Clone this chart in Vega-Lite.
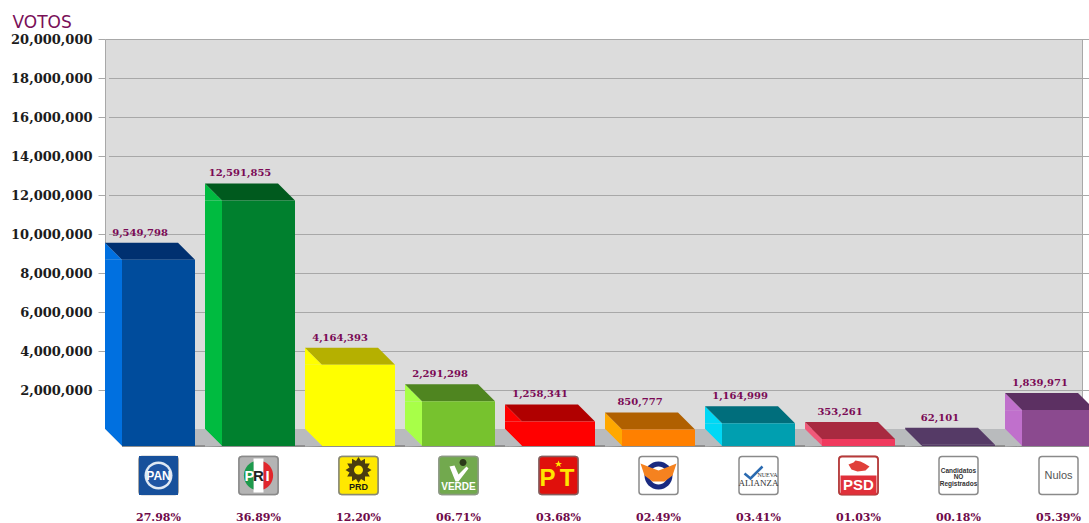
{
"$schema":"https://vega.github.io/schema/vega-lite/v6.json",
"width":977,"height":390,
"autosize":{"type":"none"},
"padding":{"left":105,"top":39,"right":7,"bottom":94},
"background":"#ffffff",
"view":{"fill":"#dcdcdc","stroke":"#a8a8a8","strokeWidth":1},
"data":{"values":[
{"p":"PAN","v":9549798,"pct":"27.98%"},
{"p":"PRI","v":12591855,"pct":"36.89%"},
{"p":"PRD","v":4164393,"pct":"12.20%"},
{"p":"PVEM","v":2291298,"pct":"06.71%"},
{"p":"PT","v":1258341,"pct":"03.68%"},
{"p":"Convergencia","v":850777,"pct":"02.49%"},
{"p":"Nueva Alianza","v":1164999,"pct":"03.41%"},
{"p":"PSD","v":353261,"pct":"01.03%"},
{"p":"Candidatos no registrados","v":62101,"pct":"00.18%"},
{"p":"Nulos","v":1839971,"pct":"05.39%"}
]},
"encoding":{
"x":{"field":"p","type":"nominal","axis":null,"sort":null,"scale":{"type":"band","domain":["PAN","PRI","PRD","PVEM","PT","Convergencia","Nueva Alianza","PSD","Candidatos no registrados","Nulos"],"range":[3.5,1003.5],"paddingInner":0,"paddingOuter":0}},
"y":{"field":"v","type":"quantitative","stack":null,"scale":{"domain":[0,20000000],"nice":false}}
},
"resolve":{"scale":{"color":"independent"}},
"layer":[
{"mark":{"type":"point","filled":true,"opacity":1,"size":4,"strokeWidth":0,"fill":"#b9bbbd","shape":"M-53.5,0h100v17h-100z"},
 "encoding":{"y":{"datum":0,"type":"quantitative","axis":{"title":"VOTOS","titleAngle":0,"titleX":-93,"titleY":-12,"titleAlign":"left","titleBaseline":"alphabetic","titleFont":"DejaVu Sans","titleFontSize":17,"titleFontWeight":"normal","titleColor":"#7a1058","values":[2000000,4000000,6000000,8000000,10000000,12000000,14000000,16000000,18000000,20000000],"labelExpr":"format(datum.value, ',')","labelFont":"DejaVu Serif","labelFontWeight":"bold","labelFontSize":13,"labelColor":"#1c1c1c","labelPadding":6,"tickSize":7,"tickColor":"#a8a8a8","grid":true,"gridColor":"#a8a8a8","gridWidth":1,"domain":false,"labelOverlap":false}}}},
{"mark":{"type":"rule","color":"#8f8f8f","strokeWidth":1.5,"yOffset":17},"encoding":{"x":{"value":17},"x2":{"value":984},"y":{"datum":0,"type":"quantitative"}}},

{"mark":{"type":"bar","width":17,"xOffset":-45,"yOffset":17},
 "encoding":{"y2":{"datum":0},"color":{"field":"p","type":"nominal","legend":null,"sort":null,"scale":{"domain":["PAN","PRI","PRD","PVEM","PT","Convergencia","Nueva Alianza","PSD","Candidatos no registrados","Nulos"],"range":["#0070e0","#00bb40","#ffff00","#a8ff48","#ff0000","#ffa800","#00d8f5","#f05a7a","#553a66","#c070cc"]}}}},
{"mark":{"type":"point","filled":true,"opacity":1,"size":4,"strokeWidth":0,"shape":"M-53.5,0L-36.5,17L-53.5,17Z"},
 "encoding":{"color":{"field":"p","type":"nominal","legend":null,"sort":null,"scale":{"domain":["PAN","PRI","PRD","PVEM","PT","Convergencia","Nueva Alianza","PSD","Candidatos no registrados","Nulos"],"range":["#0070e0","#00bb40","#ffff00","#a8ff48","#ff0000","#ffa800","#00d8f5","#f05a7a","#553a66","#c070cc"]}}}},
{"mark":{"type":"point","filled":true,"opacity":1,"size":4,"strokeWidth":0,"shape":"M-53.5,0L-36.5,0L-36.5,17Z"},
 "encoding":{"y":{"datum":0,"type":"quantitative"},"color":{"field":"p","type":"nominal","legend":null,"sort":null,"scale":{"domain":["PAN","PRI","PRD","PVEM","PT","Convergencia","Nueva Alianza","PSD","Candidatos no registrados","Nulos"],"range":["#0070e0","#00bb40","#ffff00","#a8ff48","#ff0000","#ffa800","#00d8f5","#f05a7a","#553a66","#c070cc"]}}}},
{"mark":{"type":"point","filled":true,"opacity":1,"size":4,"strokeWidth":0,"shape":"M-53.5,0L-36.5,17L-53.5,17.5Z"},
 "encoding":{"y":{"datum":0,"type":"quantitative"},"color":{"field":"p","type":"nominal","legend":null,"sort":null,"scale":{"domain":["PAN","PRI","PRD","PVEM","PT","Convergencia","Nueva Alianza","PSD","Candidatos no registrados","Nulos"],"range":["#ffffff","#b9bbbd","#b9bbbd","#b9bbbd","#b9bbbd","#b9bbbd","#b9bbbd","#b9bbbd","#b9bbbd","#b9bbbd"]}}}},
{"mark":{"type":"point","filled":true,"opacity":1,"size":4,"strokeWidth":0,"shape":"M-53.5,0L19.5,0L36.5,17L-36.5,17Z"},
 "encoding":{"color":{"field":"p","type":"nominal","legend":null,"sort":null,"scale":{"domain":["PAN","PRI","PRD","PVEM","PT","Convergencia","Nueva Alianza","PSD","Candidatos no registrados","Nulos"],"range":["#003070","#005a1e","#b5b000","#4f8520","#b00000","#b06000","#006e7c","#a82a40","#553a66","#5c3062"]}}}},
{"mark":{"type":"bar","width":73,"yOffset":17,"y2Offset":17},
 "encoding":{"y2":{"datum":0},"color":{"field":"p","type":"nominal","legend":null,"sort":null,"scale":{"domain":["PAN","PRI","PRD","PVEM","PT","Convergencia","Nueva Alianza","PSD","Candidatos no registrados","Nulos"],"range":["#004c9c","#00802e","#ffff00","#77c22e","#ff0000","#ff8000","#009fb0","#f03a5e","#553a66","#8b4a8f"]}}}},

{"mark":{"type":"text","font":"DejaVu Serif","fontWeight":"bold","fontSize":10,"color":"#7a0a55","dx":-18.5,"dy":-7,"baseline":"alphabetic","align":"center"},
 "encoding":{"text":{"field":"v","type":"quantitative","format":","}}},
{"mark":{"type":"text","font":"DejaVu Serif","fontWeight":"bold","fontSize":11,"color":"#6f0a4a","dy":92,"baseline":"alphabetic","align":"center"},
 "encoding":{"y":{"datum":0,"type":"quantitative"},"text":{"field":"pct","type":"nominal"}}},

{"mark":{"type":"point","filled":true,"opacity":1,"size":4,"yOffset":46.5,"fill":"#ffffff","stroke":"#8a8a8a","strokeWidth":1.5,"shape":"M-16.5,-19h33a3,3 0 0 1 3,3v32a3,3 0 0 1 -3,3h-33a3,3 0 0 1 -3,-3v-32a3,3 0 0 1 3,-3z"},
 "encoding":{"y":{"datum":0,"type":"quantitative"}}},

{"transform":[{"filter":"datum.p=='PAN'"}],"mark":{"type":"point","filled":true,"opacity":1,"size":4,"yOffset":46.5,"fill":"#17509b","strokeWidth":0,"shape":"M-19.5,-19.5h39v39h-39z"},"encoding":{"y":{"datum":0,"type":"quantitative"}}},
{"transform":[{"filter":"datum.p=='PAN'"}],"mark":{"type":"point","filled":true,"opacity":1,"size":4,"yOffset":46.5,"fill":"#dfe8f3","strokeWidth":0,"shape":"M-14,0a14,14 0 1,0 28,0a14,14 0 1,0 -28,0Z"},"encoding":{"y":{"datum":0,"type":"quantitative"}}},
{"transform":[{"filter":"datum.p=='PAN'"}],"mark":{"type":"point","filled":true,"opacity":1,"size":4,"yOffset":46.5,"fill":"#1f55a3","strokeWidth":0,"shape":"M-11.5,0a11.5,11.5 0 1,0 23,0a11.5,11.5 0 1,0 -23,0Z"},"encoding":{"y":{"datum":0,"type":"quantitative"}}},
{"transform":[{"filter":"datum.p=='PAN'"}],"mark":{"type":"text","text":"PAN","font":"Liberation Sans","fontWeight":"bold","fontSize":12,"color":"#ffffff","dy":47,"align":"center"},"encoding":{"y":{"datum":0,"type":"quantitative"}}},

{"transform":[{"filter":"datum.p=='PRI'"}],"mark":{"type":"point","filled":true,"opacity":1,"size":4,"yOffset":46.5,"fill":"#b4b4b4","stroke":"#8a8a8a","strokeWidth":1.5,"shape":"M-16.5,-19h33a3,3 0 0 1 3,3v32a3,3 0 0 1 -3,3h-33a3,3 0 0 1 -3,-3v-32a3,3 0 0 1 3,-3z"},"encoding":{"y":{"datum":0,"type":"quantitative"}}},
{"transform":[{"filter":"datum.p=='PRI'"}],"mark":{"type":"point","filled":true,"opacity":1,"size":4,"yOffset":46.5,"fill":"#ffffff","strokeWidth":0,"shape":"M-5,-17h10v34h-10z"},"encoding":{"y":{"datum":0,"type":"quantitative"}}},
{"transform":[{"filter":"datum.p=='PRI'"}],"mark":{"type":"point","filled":true,"opacity":1,"size":4,"yOffset":46.5,"fill":"#1d9a4c","strokeWidth":0,"shape":"M-5,-14a15,15 0 0 0 0,28z"},"encoding":{"y":{"datum":0,"type":"quantitative"}}},
{"transform":[{"filter":"datum.p=='PRI'"}],"mark":{"type":"point","filled":true,"opacity":1,"size":4,"yOffset":46.5,"fill":"#e0262c","strokeWidth":0,"shape":"M5,-14a15,15 0 0 1 0,28z"},"encoding":{"y":{"datum":0,"type":"quantitative"}}},
{"transform":[{"filter":"datum.p=='PRI'"}],"mark":{"type":"text","text":"P","font":"Liberation Sans","fontWeight":"bold","fontSize":15,"color":"#ffffff","dy":46.5,"dx":-9,"align":"center"},"encoding":{"y":{"datum":0,"type":"quantitative"}}},
{"transform":[{"filter":"datum.p=='PRI'"}],"mark":{"type":"text","text":"R","font":"Liberation Sans","fontWeight":"bold","fontSize":15,"color":"#222222","dy":46.5,"align":"center"},"encoding":{"y":{"datum":0,"type":"quantitative"}}},
{"transform":[{"filter":"datum.p=='PRI'"}],"mark":{"type":"text","text":"I","font":"Liberation Sans","fontWeight":"bold","fontSize":15,"color":"#ffffff","dy":46.5,"dx":9,"align":"center"},"encoding":{"y":{"datum":0,"type":"quantitative"}}},

{"transform":[{"filter":"datum.p=='PRD'"}],"mark":{"type":"point","filled":true,"opacity":1,"size":4,"yOffset":46.5,"fill":"#ffe800","stroke":"#8a8a70","strokeWidth":1.5,"shape":"M-16.5,-19h33a3,3 0 0 1 3,3v32a3,3 0 0 1 -3,3h-33a3,3 0 0 1 -3,-3v-32a3,3 0 0 1 3,-3z"},"encoding":{"y":{"datum":0,"type":"quantitative"}}},
{"transform":[{"filter":"datum.p=='PRD'"}],"mark":{"type":"point","filled":true,"opacity":1,"size":4,"yOffset":41,"fill":"#4a3c10","strokeWidth":0,"shape":"M0,-13L2.5,-9L6.5,-11.3L6.5,-6.5L11.3,-6.5L9,-2.5L13,0L9,2.5L11.3,6.5L6.5,6.5L6.5,11.3L2.5,9L0,13L-2.5,9L-6.5,11.3L-6.5,6.5L-11.3,6.5L-9,2.5L-13,0L-9,-2.5L-11.3,-6.5L-6.5,-6.5L-6.5,-11.3L-2.5,-9Z"},"encoding":{"y":{"datum":0,"type":"quantitative"}}},
{"transform":[{"filter":"datum.p=='PRD'"}],"mark":{"type":"point","filled":true,"opacity":1,"size":4,"yOffset":41,"fill":"#ffe800","strokeWidth":0,"shape":"M-4.5,0a4.5,4.5 0 1,0 9,0a4.5,4.5 0 1,0 -9,0Z"},"encoding":{"y":{"datum":0,"type":"quantitative"}}},
{"transform":[{"filter":"datum.p=='PRD'"}],"mark":{"type":"text","text":"PRD","font":"Liberation Sans","fontWeight":"bold","fontSize":9,"color":"#1a1a10","dy":58,"align":"center"},"encoding":{"y":{"datum":0,"type":"quantitative"}}},

{"transform":[{"filter":"datum.p=='PVEM'"}],"mark":{"type":"point","filled":true,"opacity":1,"size":4,"yOffset":46.5,"fill":"#72a94e","stroke":"#8a9a80","strokeWidth":1.5,"shape":"M-16.5,-19h33a3,3 0 0 1 3,3v32a3,3 0 0 1 -3,3h-33a3,3 0 0 1 -3,-3v-32a3,3 0 0 1 3,-3z"},"encoding":{"y":{"datum":0,"type":"quantitative"}}},
{"transform":[{"filter":"datum.p=='PVEM'"}],"mark":{"type":"point","filled":true,"opacity":1,"size":4,"yOffset":46.5,"fill":"#ffffff","strokeWidth":0,"shape":"M-9,-9L-4,-10L0,-1L8,-9L10,-7L0,6L-3,6Z"},"encoding":{"y":{"datum":0,"type":"quantitative"}}},
{"transform":[{"filter":"datum.p=='PVEM'"}],"mark":{"type":"point","filled":true,"opacity":1,"size":4,"yOffset":46.5,"fill":"#2a3a1a","strokeWidth":0,"shape":"M1,-13a3.5,3.5 0 1,0 7,0a3.5,3.5 0 1,0 -7,0Z"},"encoding":{"y":{"datum":0,"type":"quantitative"}}},
{"transform":[{"filter":"datum.p=='PVEM'"}],"mark":{"type":"text","text":"VERDE","font":"Liberation Sans","fontWeight":"bold","fontSize":10,"color":"#ffffff","dy":58,"align":"center"},"encoding":{"y":{"datum":0,"type":"quantitative"}}},

{"transform":[{"filter":"datum.p=='PT'"}],"mark":{"type":"point","filled":true,"opacity":1,"size":4,"yOffset":46.5,"fill":"#e0100c","stroke":"#8a5a5a","strokeWidth":1.5,"shape":"M-16.5,-19h33a3,3 0 0 1 3,3v32a3,3 0 0 1 -3,3h-33a3,3 0 0 1 -3,-3v-32a3,3 0 0 1 3,-3z"},"encoding":{"y":{"datum":0,"type":"quantitative"}}},
{"transform":[{"filter":"datum.p=='PT'"}],"mark":{"type":"text","text":"P","font":"Liberation Sans","fontWeight":"bold","fontSize":24,"color":"#ffe600","dy":50,"dx":-11,"align":"center"},"encoding":{"y":{"datum":0,"type":"quantitative"}}},
{"transform":[{"filter":"datum.p=='PT'"}],"mark":{"type":"text","text":"T","font":"Liberation Sans","fontWeight":"bold","fontSize":24,"color":"#ffe600","dy":50,"dx":8.5,"align":"center"},"encoding":{"y":{"datum":0,"type":"quantitative"}}},
{"transform":[{"filter":"datum.p=='PT'"}],"mark":{"type":"point","filled":true,"opacity":1,"size":4,"yOffset":46.5,"fill":"#ffe600","strokeWidth":0,"shape":"M0,-15L1,-12.5L3.5,-12.5L1.5,-11L2.3,-8.5L0,-10L-2.3,-8.5L-1.5,-11L-3.5,-12.5L-1,-12.5Z"},"encoding":{"y":{"datum":0,"type":"quantitative"}}},

{"transform":[{"filter":"datum.p=='Convergencia'"}],"mark":{"type":"point","filled":true,"opacity":1,"size":4,"yOffset":46.5,"fill":"#1a2a80","strokeWidth":0,"shape":"M-14,0a14,14 0 1,0 28,0a14,14 0 1,0 -28,0Z"},"encoding":{"y":{"datum":0,"type":"quantitative"}}},
{"transform":[{"filter":"datum.p=='Convergencia'"}],"mark":{"type":"point","filled":true,"opacity":1,"size":4,"yOffset":46.5,"fill":"#ffffff","strokeWidth":0,"shape":"M-9,0a9,9 0 1,0 18,0a9,9 0 1,0 -18,0Z"},"encoding":{"y":{"datum":0,"type":"quantitative"}}},
{"transform":[{"filter":"datum.p=='Convergencia'"}],"mark":{"type":"point","filled":true,"opacity":1,"size":4,"yOffset":46.5,"fill":"#f5821f","strokeWidth":0,"shape":"M-18,-12L-8,-8L0,-5L8,-8L18,-12L14,0L6,6L-6,6L-14,0Z"},"encoding":{"y":{"datum":0,"type":"quantitative"}}},

{"transform":[{"filter":"datum.p=='Nueva Alianza'"}],"mark":{"type":"point","filled":false,"opacity":1,"size":4,"yOffset":46.5,"stroke":"#2a6ab0","strokeWidth":2.5,"shape":"M-14,-2L-8,3L4,-9"},"encoding":{"y":{"datum":0,"type":"quantitative"}}},
{"transform":[{"filter":"datum.p=='Nueva Alianza'"}],"mark":{"type":"text","text":"NUEVA","font":"Liberation Serif","fontSize":6,"color":"#333333","dy":46,"dx":9,"align":"center"},"encoding":{"y":{"datum":0,"type":"quantitative"}}},
{"transform":[{"filter":"datum.p=='Nueva Alianza'"}],"mark":{"type":"text","text":"ALIANZA","font":"Liberation Serif","fontSize":9,"color":"#333333","dy":54,"align":"center"},"encoding":{"y":{"datum":0,"type":"quantitative"}}},

{"transform":[{"filter":"datum.p=='PSD'"}],"mark":{"type":"point","filled":true,"opacity":1,"size":4,"yOffset":46.5,"fill":"#ffffff","stroke":"#b83a3a","strokeWidth":1.8,"shape":"M-16.5,-19h33a3,3 0 0 1 3,3v32a3,3 0 0 1 -3,3h-33a3,3 0 0 1 -3,-3v-32a3,3 0 0 1 3,-3z"},"encoding":{"y":{"datum":0,"type":"quantitative"}}},
{"transform":[{"filter":"datum.p=='PSD'"}],"mark":{"type":"point","filled":true,"opacity":1,"size":4,"yOffset":46.5,"fill":"#e0303a","strokeWidth":0,"shape":"M-18,0h36v17a2,2 0 0 1 -2,2h-32a2,2 0 0 1 -2,-2z"},"encoding":{"y":{"datum":0,"type":"quantitative"}}},
{"transform":[{"filter":"datum.p=='PSD'"}],"mark":{"type":"point","filled":true,"opacity":1,"size":4,"yOffset":46.5,"fill":"#e0403a","strokeWidth":0,"shape":"M-10,-11L-5,-13L-3,-15L2,-14L6,-12L11,-9L7,-5L-1,-4L-7,-6Z"},"encoding":{"y":{"datum":0,"type":"quantitative"}}},
{"transform":[{"filter":"datum.p=='PSD'"}],"mark":{"type":"text","text":"PSD","font":"Liberation Sans","fontWeight":"bold","fontSize":15,"color":"#ffffff","dy":56,"align":"center"},"encoding":{"y":{"datum":0,"type":"quantitative"}}},

{"transform":[{"filter":"datum.p=='Candidatos no registrados'"}],"mark":{"type":"text","text":"Candidatos","font":"Liberation Sans","fontWeight":"bold","fontSize":6.5,"color":"#333333","dy":41.5,"align":"center"},"encoding":{"y":{"datum":0,"type":"quantitative"}}},
{"transform":[{"filter":"datum.p=='Candidatos no registrados'"}],"mark":{"type":"text","text":"NO","font":"Liberation Sans","fontWeight":"bold","fontSize":6.5,"color":"#333333","dy":47.5,"align":"center"},"encoding":{"y":{"datum":0,"type":"quantitative"}}},
{"transform":[{"filter":"datum.p=='Candidatos no registrados'"}],"mark":{"type":"text","text":"Registrados","font":"Liberation Sans","fontWeight":"bold","fontSize":6.5,"color":"#333333","dy":54.5,"align":"center"},"encoding":{"y":{"datum":0,"type":"quantitative"}}},

{"transform":[{"filter":"datum.p=='Nulos'"}],"mark":{"type":"text","text":"Nulos","font":"Liberation Sans","fontSize":11,"color":"#555555","dy":47,"align":"center"},"encoding":{"y":{"datum":0,"type":"quantitative"}}}
]
}
